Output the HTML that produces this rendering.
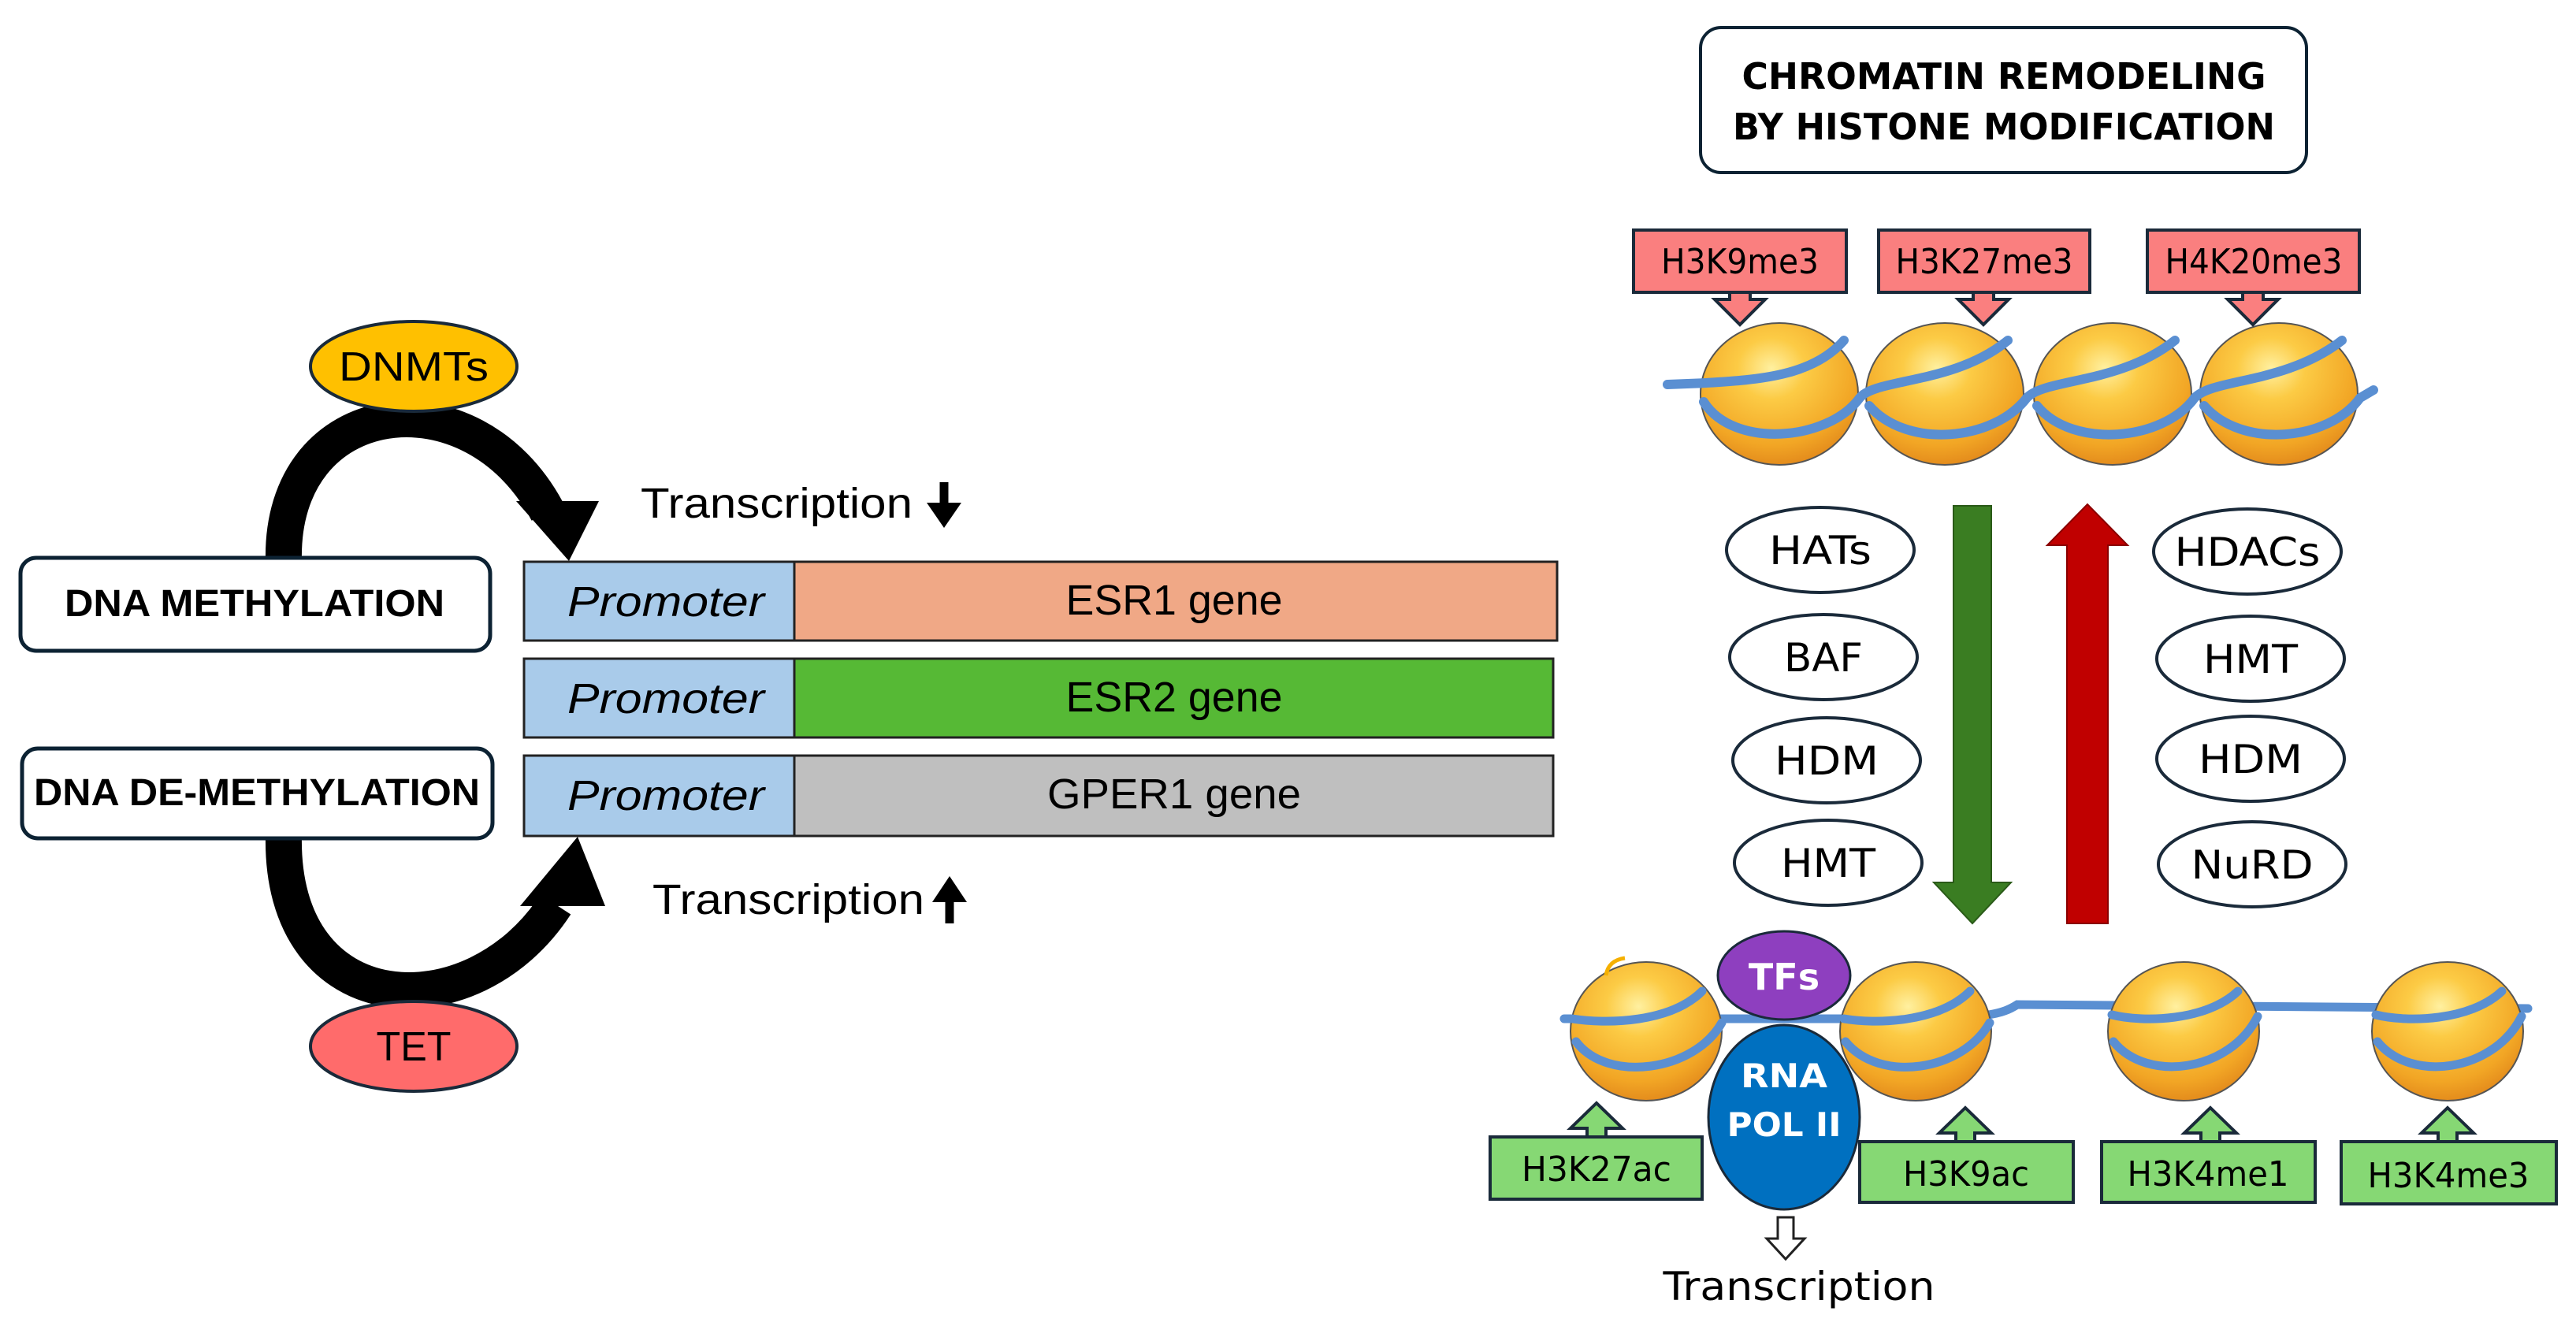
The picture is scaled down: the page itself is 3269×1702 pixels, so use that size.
<!DOCTYPE html>
<html><head><meta charset="utf-8"><style>
html,body{margin:0;padding:0;background:#fff}
svg{display:block}
</style></head><body>
<svg width="3269" height="1702" viewBox="0 0 3269 1702" xmlns="http://www.w3.org/2000/svg">
<defs>
<radialGradient id="nuc" cx="0.45" cy="0.32" r="0.72">
<stop offset="0" stop-color="#FFF0A0"/>
<stop offset="0.3" stop-color="#FCCB45"/>
<stop offset="0.75" stop-color="#F2A625"/>
<stop offset="1" stop-color="#E0851A"/>
</radialGradient>
</defs>

<!-- LEFT: curved arrows -->
<path d="M360,712 C355,500 600,470 695,650" fill="none" stroke="#000" stroke-width="46"/>
<polygon points="655,636 760,636 722,712" fill="#000"/>
<path d="M360,1060 C355,1300 600,1310 705,1148" fill="none" stroke="#000" stroke-width="46"/>
<polygon points="660,1150 768,1150 733,1062" fill="#000"/>

<!-- DNMTs / TET -->
<ellipse cx="525" cy="465" rx="131" ry="57" fill="#FFC000" stroke="#1a2a3a" stroke-width="4"/>
<text x="525" y="483" font-family="Liberation Sans, sans-serif" font-size="52" text-anchor="middle" textLength="190" lengthAdjust="spacingAndGlyphs">DNMTs</text>
<ellipse cx="525" cy="1328" rx="131" ry="57" fill="#FF6B6B" stroke="#1a2a3a" stroke-width="4"/>
<text x="525" y="1346" font-family="Liberation Sans, sans-serif" font-size="52" text-anchor="middle" textLength="95" lengthAdjust="spacingAndGlyphs">TET</text>

<!-- boxes -->
<rect x="26" y="708" width="596" height="118" rx="20" fill="#fff" stroke="#0c2233" stroke-width="5"/>
<text x="323" y="782" font-family="Liberation Sans, sans-serif" font-weight="bold" font-size="48" text-anchor="middle" textLength="482" lengthAdjust="spacingAndGlyphs">DNA METHYLATION</text>
<rect x="28" y="950" width="597" height="114" rx="20" fill="#fff" stroke="#0c2233" stroke-width="5"/>
<text x="326" y="1022" font-family="Liberation Sans, sans-serif" font-weight="bold" font-size="48" text-anchor="middle" textLength="566" lengthAdjust="spacingAndGlyphs">DNA DE-METHYLATION</text>

<!-- gene rows -->
<g font-family="Liberation Sans, sans-serif" font-size="54">
<rect x="665" y="713" width="343" height="100" fill="#A9CBEA" stroke="#222" stroke-width="3"/>
<rect x="1008" y="713" width="968" height="100" fill="#F0A886" stroke="#222" stroke-width="3"/>
<text x="845" y="782" font-style="italic" text-anchor="middle" textLength="250" lengthAdjust="spacingAndGlyphs">Promoter</text>
<text x="1490" y="780" text-anchor="middle" textLength="275" lengthAdjust="spacingAndGlyphs">ESR1 gene</text>

<rect x="665" y="836" width="343" height="100" fill="#A9CBEA" stroke="#222" stroke-width="3"/>
<rect x="1008" y="836" width="963" height="100" fill="#56B935" stroke="#222" stroke-width="3"/>
<text x="845" y="905" font-style="italic" text-anchor="middle" textLength="250" lengthAdjust="spacingAndGlyphs">Promoter</text>
<text x="1490" y="903" text-anchor="middle" textLength="275" lengthAdjust="spacingAndGlyphs">ESR2 gene</text>

<rect x="665" y="959" width="343" height="102" fill="#A9CBEA" stroke="#222" stroke-width="3"/>
<rect x="1008" y="959" width="963" height="102" fill="#BFBFBF" stroke="#222" stroke-width="3"/>
<text x="845" y="1028" font-style="italic" text-anchor="middle" textLength="250" lengthAdjust="spacingAndGlyphs">Promoter</text>
<text x="1490" y="1026" text-anchor="middle" textLength="322" lengthAdjust="spacingAndGlyphs">GPER1 gene</text>

<text x="813" y="657" textLength="345" lengthAdjust="spacingAndGlyphs">Transcription</text>
<text x="828" y="1160" textLength="345" lengthAdjust="spacingAndGlyphs">Transcription</text>
</g>
<path d="M1198,612 L1198,650" stroke="#000" stroke-width="11"/>
<polygon points="1176,638 1220,638 1198,670" fill="#000"/>
<path d="M1205,1172 L1205,1132" stroke="#000" stroke-width="11"/>
<polygon points="1183,1145 1227,1145 1205,1112" fill="#000"/>

<!-- RIGHT: title -->
<rect x="2158" y="35" width="769" height="184" rx="26" fill="#fff" stroke="#0c2233" stroke-width="4"/>
<g font-family="DejaVu Sans, sans-serif" font-weight="bold" font-size="46" text-anchor="middle">
<text x="2543" y="113" textLength="665" lengthAdjust="spacingAndGlyphs">CHROMATIN REMODELING</text>
<text x="2543" y="177" textLength="688" lengthAdjust="spacingAndGlyphs">BY HISTONE MODIFICATION</text>
</g>

<!-- top nucleosomes -->
<g stroke="#555" stroke-width="2">
<ellipse cx="2258" cy="500" rx="100" ry="90" fill="url(#nuc)"/>
<ellipse cx="2468" cy="500" rx="100" ry="90" fill="url(#nuc)"/>
<ellipse cx="2681" cy="500" rx="100" ry="90" fill="url(#nuc)"/>
<ellipse cx="2892" cy="500" rx="100" ry="90" fill="url(#nuc)"/>
</g>
<g fill="none" stroke="#5A8FD2" stroke-width="12" stroke-linecap="round">
<path d="M2116,488 L2165,486 C2230,482 2300,478 2340,432"/>
<path d="M2162,510 C2200,570 2320,560 2360,505 C2380,480 2480,488 2548,432"/>
<path d="M2372,515 C2420,570 2530,560 2572,505 C2595,480 2690,488 2760,432"/>
<path d="M2585,515 C2630,570 2745,560 2785,505 C2808,480 2900,488 2972,432"/>
<path d="M2797,515 C2845,570 2955,560 2995,505 L3012,495"/>
</g>

<!-- pink labels -->
<g font-family="DejaVu Sans, sans-serif" font-size="44" text-anchor="middle">
<g fill="#FA7F7F" stroke="#1a2a3a" stroke-width="4">
<rect x="2073" y="292" width="270" height="79"/>
<rect x="2384" y="292" width="268" height="79"/>
<rect x="2725" y="292" width="269" height="79"/>
<polygon points="2195,371 2195,380 2176,380 2208,412 2240,380 2221,380 2221,371"/>
<polygon points="2504,371 2504,380 2485,380 2517,412 2549,380 2530,380 2530,371"/>
<polygon points="2846,371 2846,380 2827,380 2859,412 2891,380 2872,380 2872,371"/>
</g>
<text x="2208" y="347" textLength="200" lengthAdjust="spacingAndGlyphs">H3K9me3</text>
<text x="2518" y="347" textLength="225" lengthAdjust="spacingAndGlyphs">H3K27me3</text>
<text x="2860" y="347" textLength="225" lengthAdjust="spacingAndGlyphs">H4K20me3</text>
</g>

<!-- enzyme ellipses -->
<g fill="#fff" stroke="#1a2a3a" stroke-width="4">
<ellipse cx="2310" cy="698" rx="119" ry="54"/>
<ellipse cx="2314" cy="834" rx="119" ry="54"/>
<ellipse cx="2318" cy="965" rx="119" ry="54"/>
<ellipse cx="2320" cy="1095" rx="119" ry="54"/>
<ellipse cx="2852" cy="700" rx="119" ry="54"/>
<ellipse cx="2856" cy="836" rx="119" ry="54"/>
<ellipse cx="2856" cy="963" rx="119" ry="54"/>
<ellipse cx="2858" cy="1097" rx="119" ry="54"/>
</g>
<g font-family="DejaVu Sans, sans-serif" font-size="50" text-anchor="middle">
<text x="2310" y="716" textLength="130" lengthAdjust="spacingAndGlyphs">HATs</text>
<text x="2314" y="852" textLength="100" lengthAdjust="spacingAndGlyphs">BAF</text>
<text x="2318" y="983" textLength="132" lengthAdjust="spacingAndGlyphs">HDM</text>
<text x="2320" y="1113" textLength="120" lengthAdjust="spacingAndGlyphs">HMT</text>
<text x="2852" y="718" textLength="185" lengthAdjust="spacingAndGlyphs">HDACs</text>
<text x="2856" y="854" textLength="120" lengthAdjust="spacingAndGlyphs">HMT</text>
<text x="2856" y="981" textLength="132" lengthAdjust="spacingAndGlyphs">HDM</text>
<text x="2858" y="1115" textLength="155" lengthAdjust="spacingAndGlyphs">NuRD</text>
</g>

<!-- big arrows -->
<polygon points="2479,642 2527,642 2527,1120 2552,1120 2503,1172 2454,1120 2479,1120" fill="#3A7D22" stroke="#2a5a18" stroke-width="2"/>
<polygon points="2623,1172 2675,1172 2675,692 2700,692 2649,640 2598,692 2623,692" fill="#C00000" stroke="#8a0000" stroke-width="2"/>

<!-- bottom strand -->
<path d="M1985,1293 L2460,1293 C2520,1290 2540,1288 2560,1275 L3208,1280" fill="none" stroke="#5A8FD2" stroke-width="11" stroke-linecap="round"/>
<g stroke="#555" stroke-width="2">
<ellipse cx="2089" cy="1309" rx="96" ry="88" fill="url(#nuc)"/>
<ellipse cx="2431" cy="1309" rx="96" ry="88" fill="url(#nuc)"/>
<ellipse cx="2771" cy="1309" rx="96" ry="88" fill="url(#nuc)"/>
<ellipse cx="3106" cy="1309" rx="96" ry="88" fill="url(#nuc)"/>
</g>
<path d="M2038,1238 C2040,1225 2048,1218 2062,1216" fill="none" stroke="#F5B000" stroke-width="5"/>
<g fill="none" stroke="#5A8FD2" stroke-width="11" stroke-linecap="round">
<path d="M1995,1293 C2040,1300 2120,1298 2160,1258"/>
<path d="M2000,1322 C2040,1375 2150,1360 2185,1298"/>
<path d="M2340,1293 C2380,1300 2460,1298 2500,1258"/>
<path d="M2342,1322 C2385,1375 2490,1360 2525,1298"/>
<path d="M2680,1288 C2720,1298 2800,1296 2840,1258"/>
<path d="M2682,1322 C2725,1375 2830,1360 2865,1290"/>
<path d="M3015,1288 C3055,1298 3135,1296 3175,1258"/>
<path d="M3017,1322 C3060,1375 3165,1360 3200,1290"/>
</g>

<!-- TFs / POL II -->
<ellipse cx="2264" cy="1238" rx="84" ry="56" fill="#8E3FBF" stroke="#1a2a3a" stroke-width="3"/>
<text x="2264" y="1256" font-family="DejaVu Sans, sans-serif" font-weight="bold" font-size="46" fill="#fff" text-anchor="middle">TFs</text>
<ellipse cx="2264" cy="1418" rx="96" ry="117" fill="#0070C0" stroke="#1a2a3a" stroke-width="3"/>
<g font-family="DejaVu Sans, sans-serif" font-weight="bold" font-size="42" fill="#fff" text-anchor="middle">
<text x="2264" y="1380" textLength="110" lengthAdjust="spacingAndGlyphs">RNA</text>
<text x="2264" y="1442" textLength="145" lengthAdjust="spacingAndGlyphs">POL II</text>
</g>

<!-- green labels -->
<g fill="#86D874" stroke="#1a2a3a" stroke-width="4">
<rect x="1891" y="1443" width="269" height="79"/>
<rect x="2360" y="1449" width="271" height="77"/>
<rect x="2667" y="1449" width="271" height="77"/>
<rect x="2971" y="1449" width="273" height="79"/>
<polygon points="2014,1443 2014,1432 1993,1432 2026,1400 2059,1432 2038,1432 2038,1443"/>
<polygon points="2482,1449 2482,1438 2461,1438 2494,1406 2527,1438 2506,1438 2506,1449"/>
<polygon points="2793,1449 2793,1438 2772,1438 2805,1406 2838,1438 2817,1438 2817,1449"/>
<polygon points="3094,1449 3094,1438 3073,1438 3106,1406 3139,1438 3118,1438 3118,1449"/>
</g>
<g font-family="DejaVu Sans, sans-serif" font-size="44" text-anchor="middle">
<text x="2026" y="1499" textLength="190" lengthAdjust="spacingAndGlyphs">H3K27ac</text>
<text x="2495" y="1505" textLength="160" lengthAdjust="spacingAndGlyphs">H3K9ac</text>
<text x="2802" y="1505" textLength="205" lengthAdjust="spacingAndGlyphs">H3K4me1</text>
<text x="3107" y="1507" textLength="205" lengthAdjust="spacingAndGlyphs">H3K4me3</text>
</g>

<!-- transcription bottom -->
<polygon points="2256,1545 2276,1545 2276,1572 2290,1572 2266,1598 2242,1572 2256,1572" fill="#fff" stroke="#222" stroke-width="3"/>
<text x="2283" y="1650" font-family="DejaVu Sans, sans-serif" font-size="50" text-anchor="middle" textLength="345" lengthAdjust="spacingAndGlyphs">Transcription</text>
</svg>
</body></html>
